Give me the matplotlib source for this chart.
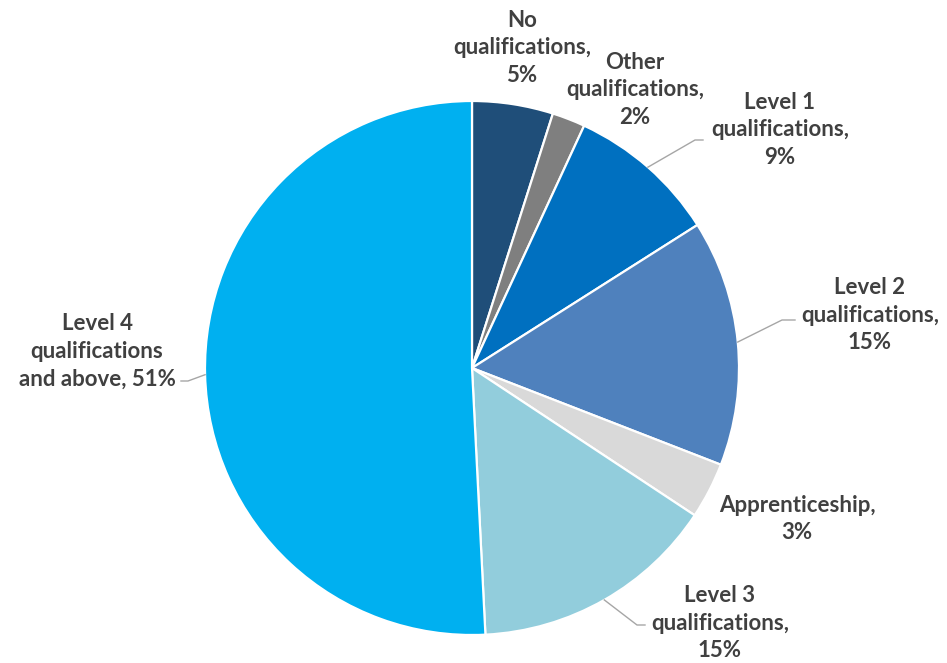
import matplotlib
matplotlib.use("Agg")
import matplotlib.pyplot as plt
import numpy as np

categories = ["No qualifications", "Other qualifications", "Level 1 qualifications",
              "Level 2 qualifications", "Apprenticeship", "Level 3 qualifications",
              "Level 4 qualifications and above"]
values = [4.9, 2.0, 9.1, 14.9, 3.4, 14.9, 50.8]
label_texts = ["No\nqualifications,\n5%", "Other\nqualifications,\n2%",
               "Level 1\nqualifications,\n9%", "Level 2\nqualifications,\n15%",
               "Apprenticeship,\n3%", "Level 3\nqualifications,\n15%",
               "Level 4\nqualifications\nand above, 51%"]
colors = ["#1F4E79", "#7F7F7F", "#0070C0", "#4F81BD", "#D9D9D9", "#92CDDC", "#00B0F0"]

W, H = 947, 663
fig = plt.figure(figsize=(W / 100, H / 100), dpi=100)
ax = fig.add_axes([0, 0, 1, 1])

cx, cy, R = 472, H - 368, 267
wedges, _ = ax.pie(values, colors=colors, startangle=90, counterclock=False,
                   center=(cx, cy), radius=R, frame=True,
                   wedgeprops=dict(edgecolor="white", linewidth=1.6))
ax.set_xlim(0, W)
ax.set_ylim(0, H)
ax.set_aspect("equal")
ax.axis("off")

# label positions (pixel coords, y from top) and leader line elbow points
label_pos = [(522, 48), (635, 90), (780, 130), (870, 315), (797, 519), (720, 623), (97, 351)]
leaders = {2: (695, 140, 703), 3: (782, 320, 795), 5: (637, 625, 645), 6: (188, 381, 181)}

for i, (txt, (lx, ly)) in enumerate(zip(label_texts, label_pos)):
    ax.text(lx, H - ly, txt, ha="center", va="center", fontsize=16,
            fontweight="bold", color="#404040", family=["Lato", "DejaVu Sans"],
            linespacing=1.4)
    if i in leaders:
        w = wedges[i]
        mid = np.deg2rad((w.theta1 + w.theta2) / 2)
        sx, sy = cx + R * np.cos(mid), cy + R * np.sin(mid)
        ex, ey, fx = leaders[i]
        ax.plot([sx, ex, fx], [sy, H - ey, H - ey], color="#A6A6A6", lw=1.0)

fig.savefig("out.png", dpi=100)
